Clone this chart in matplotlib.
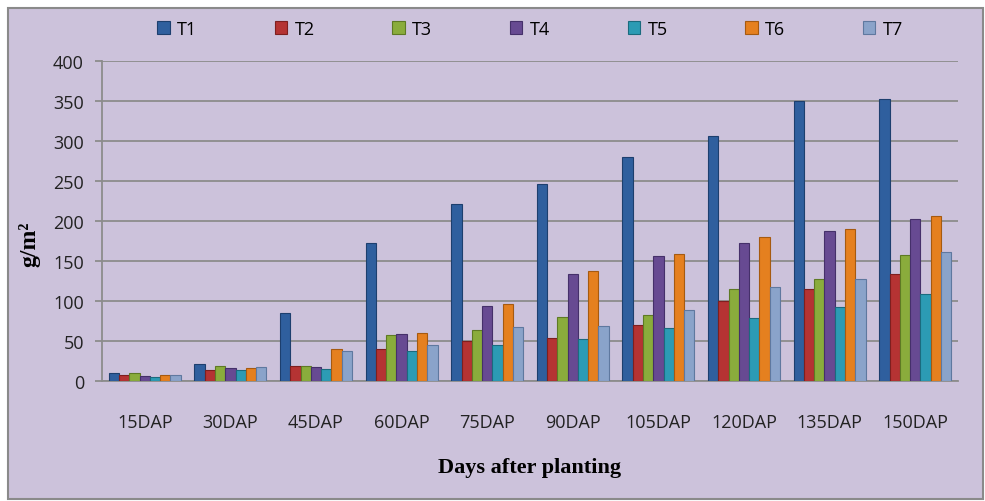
import matplotlib.pyplot as plt
import numpy as np
from matplotlib.patches import Rectangle

days = ['15DAP', '30DAP', '45DAP', '60DAP', '75DAP', '90DAP', '105DAP', '120DAP', '135DAP', '150DAP']
treatments = ['T1', 'T2', 'T3', 'T4', 'T5', 'T6', 'T7']

t1 = [10, 21, 85, 173, 221, 246, 280, 306, 350, 352]
t2 = [8, 14, 19, 40, 50, 54, 70, 100, 115, 134]
t3 = [10, 19, 19, 57, 64, 80, 82, 115, 127, 157]
t4 = [6, 16, 18, 59, 94, 134, 156, 173, 188, 203]
t5 = [5, 14, 15, 37, 45, 52, 66, 79, 93, 109]
t6 = [8, 16, 40, 60, 96, 138, 159, 180, 190, 206]
t7 = [8, 17, 38, 45, 67, 69, 89, 117, 128, 161]
series = [t1, t2, t3, t4, t5, t6, t7]

colors = ['#2F5F9E', '#B53333', '#8AAC3C', '#674A92', '#2C9BB4', '#E5801F', '#8AA3CA']
edges = ['#1D3F6E', '#7E1F1F', '#5E7A24', '#45306A', '#1B6B7E', '#A65A10', '#5F789F']
bg = '#CCC2DB'

fig = plt.figure(figsize=(9.85, 5.02), dpi=100)
fig.patch.set_facecolor('white')
fig.patches.append(Rectangle((8 / 985, 2 / 502), 975 / 985, 491 / 502, transform=fig.transFigure,
                             facecolor=bg, edgecolor='#8a8a8a', linewidth=1.5, zorder=-5))

ax = fig.add_axes([102 / 985, 120 / 502, 856 / 985, 320 / 502])
ax.set_zorder(2)
ax.set_facecolor(bg)

x = np.arange(len(days))
w = 0.12
for i, (vals, name) in enumerate(zip(series, treatments)):
    ax.bar(x + (i - 3) * w, vals, width=w, color=colors[i], edgecolor=edges[i],
           linewidth=0.8, label=name, zorder=3)

ax.set_xlim(-0.5, len(days) - 0.5)
ax.set_ylim(0, 400)
ax.set_yticks(np.arange(0, 401, 50))
ax.set_xticks(x)
ax.set_xticklabels(days)
ax.grid(axis='y', color='#8c8c8c', linewidth=1.3, zorder=0)
ax.set_axisbelow(True)
for s in ['top', 'right']:
    ax.spines[s].set_visible(False)
for s in ['left', 'bottom']:
    ax.spines[s].set_color('#8c8c8c')
    ax.spines[s].set_linewidth(1.3)
ax.tick_params(axis='y', colors='#8c8c8c', labelcolor='#222222', labelsize=13, length=5, width=1.3, pad=8)
ax.tick_params(axis='x', length=0, labelsize=13, labelcolor='#222222', pad=23)
for lbl in ax.get_xticklabels() + ax.get_yticklabels():
    lbl.set_family('Open Sans')

ax.set_ylabel('g/m²', family='Liberation Serif', fontweight='bold', fontsize=17)
ax.yaxis.set_label_coords(-0.072, 0.43)
ax.set_xlabel('Days after planting', family='Liberation Serif', fontweight='bold', fontsize=16, labelpad=19)

leg = fig.legend(loc='center', bbox_to_anchor=(0.538, 1 - 30 / 502), ncol=7, frameon=False,
                 handlelength=0.7, handleheight=0.7, columnspacing=4.3, handletextpad=0.4,
                 prop={'family': 'Open Sans', 'size': 13})
leg.set_zorder(3)

fig.savefig('out.png', dpi=100, facecolor='white')
